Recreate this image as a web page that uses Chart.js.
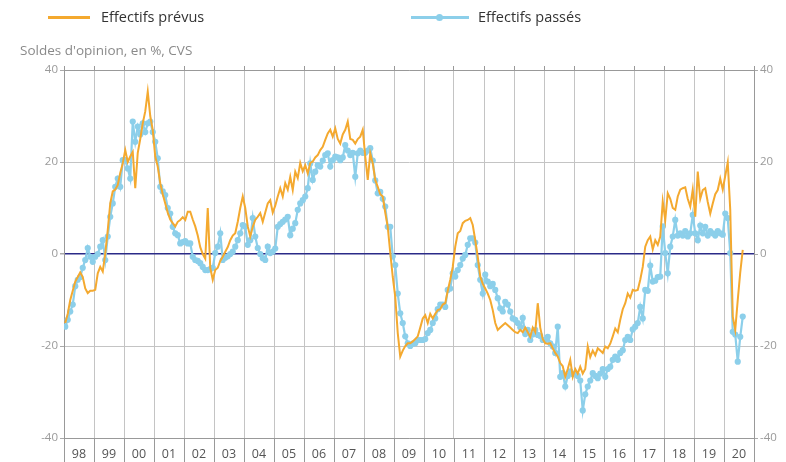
<!DOCTYPE html>
<html><head><meta charset="utf-8">
<script src="https://cdn.jsdelivr.net/npm/chart.js@4/dist/chart.umd.min.js"></script>
<style>
html,body{margin:0;padding:0;background:#fff;}
#wrap{position:relative;width:786px;height:462px;font-family:"Open Sans",sans-serif;overflow:hidden;}
#c{position:absolute;left:0;top:0;}
.lg{position:absolute;font-size:14.5px;color:#333;line-height:18px;white-space:nowrap;}
.sw{position:absolute;height:3px;}
.dot{position:absolute;width:7px;height:7px;border-radius:50%;}
#sub{position:absolute;left:20px;top:41px;font-size:13.5px;color:#8a8a8a;white-space:nowrap;}
</style></head>
<body><div id="wrap">
<canvas id="c" width="786" height="462"></canvas>
<div class="sw" style="left:48px;top:16px;width:42px;background:#f4a92f"></div>
<div class="lg" style="left:101px;top:8px">Effectifs prévus</div>
<div class="sw" style="left:411px;top:16px;width:58px;background:#8ccfea"></div>
<div class="dot" style="left:436px;top:14px;background:#8ccfea"></div>
<div class="lg" style="left:478px;top:8px">Effectifs passés</div>
<div id="sub">Soldes d'opinion, en %, CVS</div>
</div>
<script>
const years = ['98','99','00','01','02','03','04','05','06','07','08','09','10','11','12','13','14','15','16','17','18','19','20'];
const startYear = 1998;
const yTicks = [-40,-20,0,20,40];

// Effectifs prévus (monthly, Jan 1998 - Aug 2020)
const prevus = [
-15,-13,-10,-8,-6,-5,-4,-5,-7.5,-8.5,-8,-8,
-7.8,-4.2,-2.8,-3.8,0.1,5.2,11,13.6,14,15,17.6,19.7,
22.6,20,21.2,22.2,14.3,22,25,28.4,31,35.3,30,27,
21.2,19,15.4,13,11,9,7.5,6.7,6,7,7.4,8,
7.4,9.2,9.2,7.5,6,4,1.5,0,-1,10,-3,-5.6,
-3.5,-3,-1.5,-0.6,0.5,1.5,3,4,4.5,7,10,12.5,
10,6,3.8,5.9,7.4,8.1,8.9,7,9,11,11.7,9,
10.5,12.5,14.3,12.5,15.4,14,16.8,13.9,17.9,16.5,19.8,18,
19.3,17.5,19.8,20.1,21,21.5,22.6,23.3,24.8,26.2,27,25.5,
27.3,25,24,26,27,28.8,25,24.8,24,25,25.5,27,
21.2,16.1,21.9,19.7,16.1,14.6,13,12.5,9,5.9,0.3,-5,
-9.3,-17.2,-22.3,-21,-20,-19.4,-19.4,-19,-18.5,-17.9,-16,-14,
-13.3,-15,-13,-14,-13,-12.2,-12,-11,-10.7,-8,-5.6,-2.8,
1.6,4.5,5,6.7,7.2,7.4,7.8,6.3,3,-0.6,-4.9,-6.5,
-7.5,-8.6,-10,-12.2,-15,-16.5,-16,-15.5,-15,-15.5,-16,-16.5,
-17,-17.2,-16.5,-17,-16,-17,-18,-16,-17,-10.7,-16,-18.5,
-19.4,-19.5,-19.4,-20.5,-21.5,-22.3,-23.7,-24.4,-26.7,-25,-23,-26.7,
-25,-26,-24.5,-26,-25,-20.1,-22.4,-21,-22,-20.5,-21,-21.5,
-20.1,-20.5,-19.5,-17.9,-16.2,-17,-14.3,-12,-10.7,-8.6,-9.5,-7.8,
-8,-7.8,-5.6,-2.8,1.6,3,3.8,1,3,2,3.8,11.4,
7.4,13.2,12,10,9.6,12.5,14,14.3,14.5,12,10.3,14,
8.1,17.9,12,13.9,14.3,11.3,8.8,11,13,13.9,16.4,14,
17,19.9,9.6,-13.6,-16.5,-10,-4,0.9
];

// Effectifs passés (monthly, Jan 1998 - Aug 2020)
const passes = [
-15.8,-14.3,-12.5,-11,-7,-5.6,-5,-3,-1.3,1.3,-0.6,-1.7,
-0.6,0,1.6,3,-1.3,3.8,8.1,11,14.6,16.4,14.6,20.4,
20.4,18.6,16.4,28.8,24.4,27.7,26,28.4,26.5,28.4,28.8,26.5,
24.4,20.8,14.6,13.6,12.8,10,8.8,5.9,4.5,4.1,2.3,2.6,
2.8,2.3,2.3,-0.6,-1.3,-1.5,-2,-2.8,-3.5,-3.5,-3.3,-3,
0.2,1.6,4.5,-1.3,-0.8,-0.5,0,0.5,1.6,3,4.5,6.3,
6,2,3,7.8,3.8,1.3,0,-0.9,-1.3,1.6,0.2,0.5,
1.2,5.9,6.5,7,7.5,8.1,4.1,5.5,6.7,9.6,11,11.7,
12.5,14.3,19.7,16.1,17.9,19.3,19,20.3,21.5,21.9,19,20.4,
21.2,21,20.4,21,23.7,22.5,21.5,22,16.8,21.9,22.5,22,
22,22.5,23,20.3,16,13.2,13.5,12,10.3,5.9,5.9,-0.5,
-2.4,-8.6,-12.9,-15,-17.9,-19.4,-20,-19.5,-19.4,-18.7,-18.7,-18.7,
-18.5,-17.2,-16.5,-15,-14,-12,-11,-11,-11.5,-7.8,-7.5,-4.2,
-4.9,-3.5,-2.4,-1,-0.2,2,3.4,3.4,2.5,-2.4,-5.6,-8.6,
-4.5,-6,-7,-6.5,-7.8,-9.6,-11.8,-12.5,-10.4,-11,-12.5,-14,
-14.3,-15,-15.9,-13.9,-17.4,-16.5,-18.7,-17.5,-16.5,-17.6,-17.8,-18.7,
-18.7,-18,-19.4,-20.1,-21.5,-15.8,-26.7,-25.9,-28.8,-26.5,-25.5,-26.1,
-26,-26.5,-27.5,-34,-30.5,-28.8,-27.5,-25.9,-26.5,-27,-26,-25,
-26.7,-25,-24.5,-23,-22.3,-23,-21.5,-20.9,-18.7,-18,-18.7,-16.4,
-15.8,-15,-11.5,-14,-7.8,-8,-2.5,-6,-5.8,-5,-4.9,6,
0.2,-4.2,1.6,3.8,7.4,4,4.5,4,5,3.8,4.5,8.5,
4.5,3,6.2,4.5,5.9,4,5,4.5,4,5,4.5,4.2,
8.8,7.8,0.2,-16.9,-17.5,-23.4,-18,-13.6
];

const ORANGE = '#f4a92f';
const BLUE = '#8ccfea';
const NAVY = '#2b2b88';
const GRID = '#c4c4c4';

const toPts = arr => arr.map((v,i) => ({x: startYear + (i + 0.5)/12, y: v}));

Chart.defaults.font.family = "'Open Sans', sans-serif";

new Chart(document.getElementById('c'), {
  type: 'line',
  data: {
    datasets: [
      {label:'Effectifs prévus', data: toPts(prevus), borderColor: ORANGE, borderWidth: 2, pointRadius: 0, tension: 0, order: 0, yAxisID:'y', xAxisID:'x'},
      {label:'Effectifs passés', data: toPts(passes), borderColor: BLUE, backgroundColor: BLUE, borderWidth: 2.2, pointRadius: 3.1, pointBorderWidth: 0, pointBackgroundColor: BLUE, tension: 0, order: 1, yAxisID:'y', xAxisID:'x'}
    ]
  },
  options: {
    responsive: false,
    animation: false,
    layout: {padding: {left: 0, right: 0, top: 66, bottom: 0}},
    plugins: {legend: {display: false}, tooltip: {enabled: false}},
    scales: {
      x: {
        type: 'linear', position: 'bottom', min: startYear, max: startYear + years.length,
        ticks: {display: false, stepSize: 1},
        grid: {color: GRID, drawTicks: false},
        border: {display: false},
        afterFit(s){ s.height = 0; }
      },
      xl: {
        type: 'category', position: 'bottom', labels: years, offset: true,
        grid: {offset: true, drawOnChartArea: false, tickLength: 24, color: '#999'},
        ticks: {padding: -15, color: '#555', font: {size: 12.5}, maxRotation: 0, autoSkip: false},
        border: {color: '#999'},
        afterFit(s){ s.height = 24; }
      },
      xt: {
        type: 'linear', position: 'top', min: startYear, max: startYear + years.length,
        ticks: {display: false, stepSize: 1},
        grid: {drawOnChartArea: false, tickLength: 4, color: '#999'},
        border: {color: '#999'},
        afterFit(s){ s.height = 4; }
      },
      y: {
        position: 'left', min: -40, max: 40,
        afterBuildTicks(s){ s.ticks = yTicks.map(v => ({value: v})); },
        ticks: {color: '#9a9a9a', font: {size: 11.5}, padding: 2},
        grid: {
          color: c => (c.tick && c.tick.value === 0) ? NAVY : GRID,
          lineWidth: c => (c.tick && c.tick.value === 0) ? 1.5 : 1,
          tickLength: 4, tickColor: '#aaa'
        },
        border: {color: '#999'},
        afterFit(s){ s.width = 64; }
      },
      y2: {
        position: 'right', min: -40, max: 40,
        afterBuildTicks(s){ s.ticks = yTicks.map(v => ({value: v})); },
        ticks: {color: '#9a9a9a', font: {size: 11.5}, padding: 2},
        grid: {drawOnChartArea: false, tickLength: 4, color: '#aaa'},
        border: {color: '#999'},
        afterFit(s){ s.width = 32; }
      }
    }
  }
});
</script>
</body></html>
